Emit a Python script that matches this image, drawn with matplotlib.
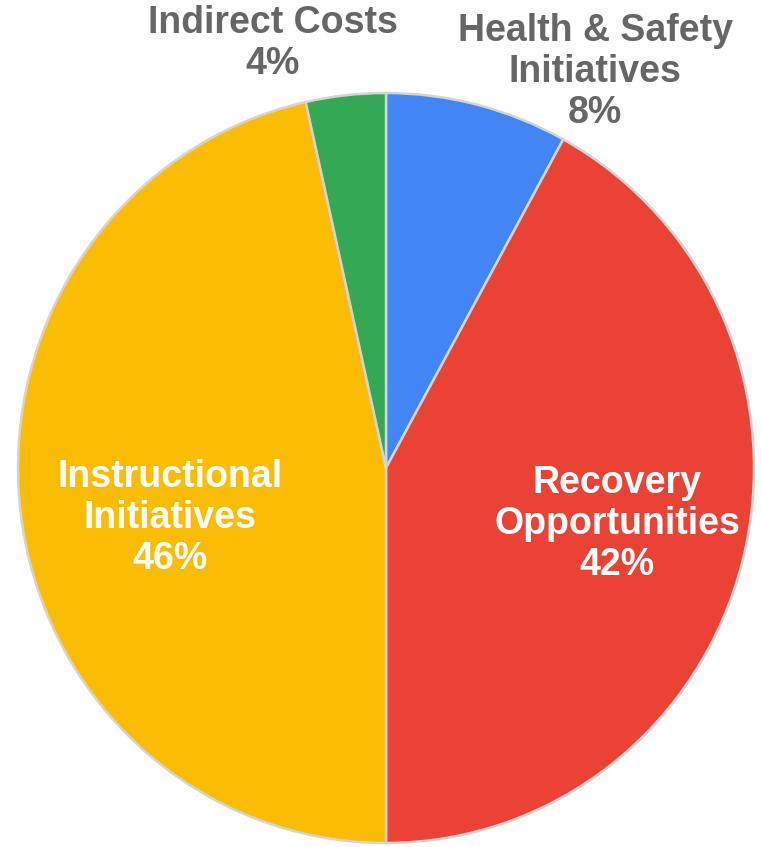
import matplotlib
matplotlib.use("Agg")
import matplotlib.pyplot as plt

# Data
categories = ["Health & Safety\nInitiatives", "Recovery\nOpportunities",
              "Instructional\nInitiatives", "Indirect Costs"]
values = [8.0, 42.0, 46.5, 3.5]
colors = ["#4285F4", "#EA4335", "#FBBC04", "#34A853"]
pct_labels = ["8%", "42%", "46%", "4%"]

# Layout (label centres in axis data units, pie radius = 1)
label_pos = [(0.568, 1.056), (0.628, -0.149), (-0.587, -0.133), (-0.307, 1.131)]
label_col = ["#666666", "white", "white", "#666666"]

W, H = 762, 847
cx, cy, rx, ry = 386, 468, 368, 375

fig = plt.figure(figsize=(W / 100, H / 100), dpi=100)
ax = fig.add_axes([0, 0, 1, 1])
ax.pie(values, colors=colors, startangle=90, counterclock=False, radius=1,
       wedgeprops=dict(edgecolor="#d4d4d4", linewidth=1.8))
ax.set_aspect("auto")
ax.set_xlim(-cx / rx, (W - cx) / rx)
ax.set_ylim((cy - H) / ry, cy / ry)
ax.axis("off")

for cat, p, (x, y), c in zip(categories, pct_labels, label_pos, label_col):
    ax.text(x, y, f"{cat}\n{p}", ha="center", va="center",
            color=c, fontsize=27, fontweight="bold",
            family=["Liberation Sans", "DejaVu Sans"], linespacing=1.17)

fig.savefig("out.png", dpi=100, facecolor="white")
